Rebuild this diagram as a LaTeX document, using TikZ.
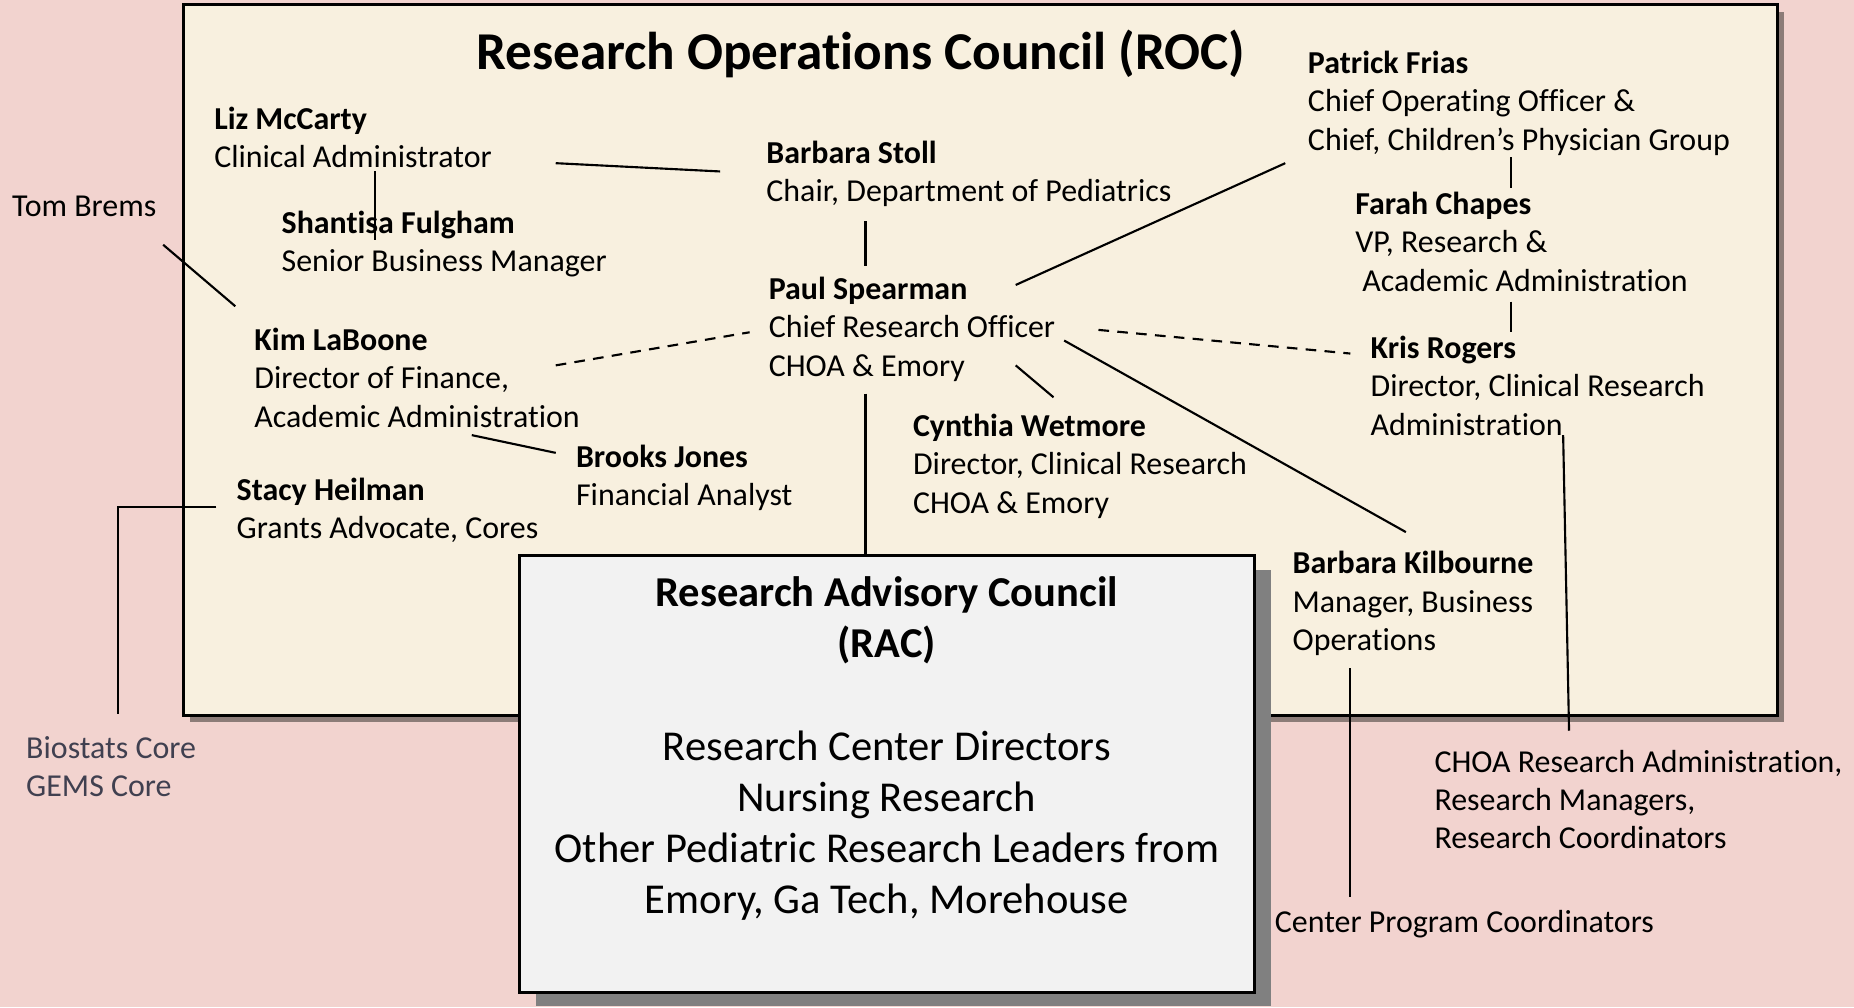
\documentclass[tikz,border=0pt]{standalone}
\usepackage{fontspec}
\setmainfont{Carlito}[Ligatures={NoCommon}]
\usetikzlibrary{shadows}
\definecolor{bgpink}{RGB}{242,211,207}
\definecolor{roccream}{RGB}{248,240,223}
\definecolor{racgray}{RGB}{242,242,242}
\definecolor{rocshadow}{RGB}{140,124,120}
\definecolor{racshadow}{RGB}{128,128,128}
\definecolor{coretext}{RGB}{64,64,80}
\begin{document}
\begin{tikzpicture}[x=1pt,y=-1pt,
  person/.style={anchor=north west, inner sep=0pt, align=left,
    font=\fontsize{27}{32.5}\selectfont, execute at begin node=\strut},
  conn/.style={line width=1.8pt},
  thinconn/.style={line width=1.2pt},
  thickconn/.style={line width=3pt},
  dashconn/.style={line width=1.8pt, dash pattern=on 9pt off 7pt},
  rocbox/.style={draw=black, line width=2.5pt, fill=roccream, inner sep=0pt,
    drop shadow={shadow xshift=6pt, shadow yshift=-6pt, fill=rocshadow, opacity=1}},
  racbox/.style={draw=black, line width=2.5pt, fill=racgray, inner sep=0pt,
    drop shadow={shadow xshift=14pt, shadow yshift=-12pt, fill=racshadow, opacity=1}},
]
\fill[bgpink] (0,0) rectangle (1568,852);
\useasboundingbox (0,0) rectangle (1568,852);

\node[rocbox, minimum width=1348pt, minimum height=601pt] (roc) at (829,304.5) {};

\node[anchor=center, inner sep=0pt, font=\fontsize{45}{54}\selectfont\bfseries] (title) at (728,46) {Research Operations Council (ROC)};

\node[person] (liz) at (181,90) {\textbf{Liz McCarty}\\Clinical Administrator};
\node[person] (shantisa) at (238,178) {\textbf{Shantisa Fulgham}\\Senior Business Manager};
\node[person] (stoll) at (648,119) {\textbf{Barbara Stoll}\\Chair, Department of Pediatrics};
\node[person] (spearman) at (650,234) {\textbf{Paul Spearman}\\Chief Research Officer\\CHOA \& Emory};
\node[person] (frias) at (1106,43) {\textbf{Patrick Frias}\\Chief Operating Officer \&\\Chief, Children’s Physician Group};
\node[person] (chapes) at (1146,162) {\textbf{Farah Chapes}\\VP, Research \&\\\hspace{6pt}Academic Administration};
\node[person] (rogers) at (1159,284) {\textbf{Kris Rogers}\\Director, Clinical Research\\Administration};
\node[person] (tom) at (10,160) {Tom Brems};
\node[person] (kim) at (215,277) {\textbf{Kim LaBoone}\\Director of Finance,\\Academic Administration};
\node[person] (brooks) at (487,376) {\textbf{Brooks Jones}\\Financial Analyst};
\node[person] (stacy) at (200,404) {\textbf{Stacy Heilman}\\Grants Advocate, Cores};
\node[person] (wetmore) at (772,350) {\textbf{Cynthia Wetmore}\\Director, Clinical Research\\CHOA \& Emory};
\node[person] (kilbourne) at (1093,466) {\textbf{Barbara Kilbourne}\\Manager, Business\\Operations};
\node[person, text=coretext] (cores) at (22,622.5) {Biostats Core\\GEMS Core};
\node[person] (choa) at (1213,634) {CHOA Research Administration,\\Research Managers,\\Research Coordinators};
\node[person] (cpc) at (1078,766) {Center Program Coordinators};

% connector end points
\coordinate (lizR) at (470,138);   \coordinate (stollL) at (609,145);
\coordinate (lizB) at (317,145);   \coordinate (shanT) at (317,203);
\coordinate (tomE) at (138,207);   \coordinate (kimT) at (199,259);
\coordinate (stollB) at (732,187); \coordinate (spearT) at (732,225);
\coordinate (kimR) at (470,309);   \coordinate (spearL) at (634,281);
\coordinate (spearTR) at (859,241);\coordinate (friasBL) at (1087,138);
\coordinate (spearR) at (929,279); \coordinate (rogersL) at (1142,299);
\coordinate (spearBR) at (859,309);\coordinate (wetT) at (891,336);
\coordinate (spearR2) at (900,288);\coordinate (kilT) at (1189,450);
\coordinate (friasB) at (1278,133);\coordinate (chapesT) at (1278,159);
\coordinate (chapesB) at (1278,255);\coordinate (rogersT) at (1278,281);
\coordinate (rogersB) at (1322,368);\coordinate (choaT) at (1327,618);
\coordinate (kimB) at (399,368);   \coordinate (brooksL) at (470,383);
\coordinate (stacyL) at (183,429); \coordinate (bend) at (100,429); \coordinate (coresT) at (100,604);
\coordinate (spearB) at (732,333);
\coordinate (kilB) at (1142,565);  \coordinate (cpcT) at (1142,759);

\node[racbox, minimum width=622pt, minimum height=369pt] (rac) at (750,654.5) {};
\node[anchor=north, inner sep=0pt, align=center, font=\fontsize{36}{43.3}\selectfont,
  execute at begin node=\strut] (ractext) at (750,487.5)
  {\textbf{Research Advisory Council}\\\textbf{(RAC)}\\\strut\\Research Center Directors\\Nursing Research\\Other Pediatric Research Leaders from\\Emory, Ga Tech, Morehouse};

\draw[conn] (lizR) -- (stollL);
\draw[thinconn] (lizB) -- (shanT);
\draw[conn] (tomE) -- (kimT);
\draw[conn] (stollB) -- (spearT);
\draw[dashconn] (kimR) -- (spearL);
\draw[conn] (spearTR) -- (friasBL);
\draw[dashconn] (spearR) -- (rogersL);
\draw[conn] (spearBR) -- (wetT);
\draw[conn] (spearR2) -- (kilT);
\draw[conn] (friasB) -- (chapesT);
\draw[conn] (chapesB) -- (rogersT);
\draw[conn] (rogersB) -- (choaT);
\draw[conn] (kimB) -- (brooksL);
\draw[conn] (stacyL) -- (bend) -- (coresT);
\draw[thickconn] (spearB) -- (rac.north -| spearB);
\draw[conn] (kilB) -- (cpcT);
\end{tikzpicture}
\end{document}
